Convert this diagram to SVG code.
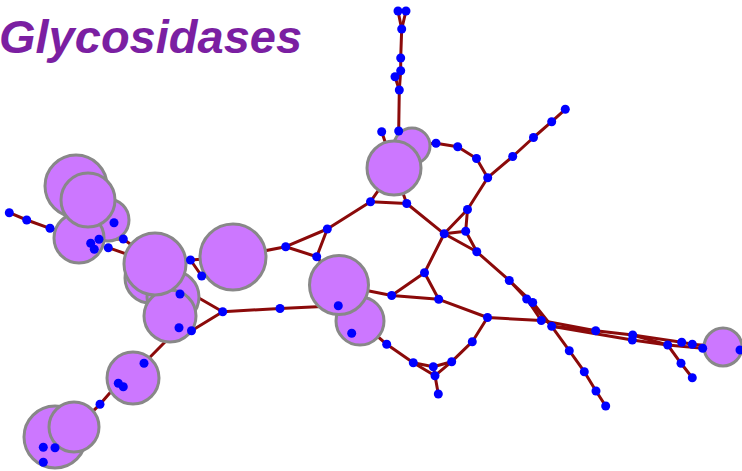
<svg xmlns="http://www.w3.org/2000/svg" width="742" height="471" viewBox="0 0 742 471">
<style>
.t{font-family:"Liberation Sans",Arial,sans-serif;font-weight:bold;font-style:italic;font-size:47px;fill:#7B1FA2}
.e line{stroke:#8B0A0A;stroke-width:3;stroke-linecap:round}
.c{fill:#CC77FF;stroke:#888888;stroke-width:3}
.d{fill:#0000FF}
</style>
<rect width="742" height="471" fill="#FFFFFF"/>
<text class="t" x="-1" y="53">Glycosidases</text>
<g id="connectors" class="e">
<line x1="398" y1="11" x2="401.7" y2="29"/>
<line x1="406" y1="11" x2="401.7" y2="29"/>
<line x1="401.7" y1="29" x2="400.7" y2="58"/>
<line x1="400.7" y1="58" x2="400.7" y2="70.7"/>
<line x1="400.7" y1="70.7" x2="395" y2="76.7"/>
<line x1="395" y1="76.7" x2="399.3" y2="90"/>
<line x1="400.7" y1="70.7" x2="399.3" y2="90"/>
<line x1="399.3" y1="90" x2="398.7" y2="131"/>
<line x1="398.7" y1="131" x2="410" y2="145"/>
<line x1="381.7" y1="131.7" x2="394" y2="168"/>
<line x1="412" y1="145" x2="436" y2="143.3"/>
<line x1="436" y1="143.3" x2="457.7" y2="146.7"/>
<line x1="457.7" y1="146.7" x2="476.5" y2="158.5"/>
<line x1="476.5" y1="158.5" x2="487.7" y2="177.7"/>
<line x1="487.7" y1="177.7" x2="512.7" y2="156.5"/>
<line x1="512.7" y1="156.5" x2="533.5" y2="137.5"/>
<line x1="533.5" y1="137.5" x2="551.7" y2="121.7"/>
<line x1="551.7" y1="121.7" x2="565.3" y2="109.3"/>
<line x1="487.7" y1="177.7" x2="467.5" y2="209.5"/>
<line x1="467.5" y1="209.5" x2="444.2" y2="233.8"/>
<line x1="467.5" y1="209.5" x2="465.7" y2="231.2"/>
<line x1="465.7" y1="231.2" x2="444.2" y2="233.8"/>
<line x1="444.2" y1="233.8" x2="476.8" y2="251.8"/>
<line x1="465.7" y1="231.2" x2="476.8" y2="251.8"/>
<line x1="394" y1="168" x2="370.5" y2="201.7"/>
<line x1="394" y1="168" x2="406.7" y2="203.5"/>
<line x1="370.5" y1="201.7" x2="406.7" y2="203.5"/>
<line x1="406.7" y1="203.5" x2="444.2" y2="233.8"/>
<line x1="370.5" y1="201.7" x2="327.3" y2="229"/>
<line x1="327.3" y1="229" x2="285.7" y2="246.7"/>
<line x1="327.3" y1="229" x2="316.7" y2="256.7"/>
<line x1="285.7" y1="246.7" x2="316.7" y2="256.7"/>
<line x1="316.7" y1="256.7" x2="339" y2="285"/>
<line x1="233" y1="257" x2="285.7" y2="246.7"/>
<line x1="476.8" y1="251.8" x2="509.3" y2="280.5"/>
<line x1="509.3" y1="280.5" x2="526.7" y2="299"/>
<line x1="509.3" y1="280.5" x2="532.7" y2="302.5"/>
<line x1="526.7" y1="299" x2="541.3" y2="320.5"/>
<line x1="532.7" y1="302.5" x2="551.7" y2="326.3"/>
<line x1="526.7" y1="299" x2="551.7" y2="326.3"/>
<line x1="444.2" y1="233.8" x2="424.5" y2="272.7"/>
<line x1="424.5" y1="272.7" x2="391.7" y2="295.5"/>
<line x1="424.5" y1="272.7" x2="438.7" y2="299.3"/>
<line x1="391.7" y1="295.5" x2="438.7" y2="299.3"/>
<line x1="391.7" y1="295.5" x2="339" y2="285"/>
<line x1="438.7" y1="299.3" x2="487.5" y2="317.5"/>
<line x1="487.5" y1="317.5" x2="541.3" y2="320.5"/>
<line x1="541.3" y1="320.5" x2="595.7" y2="330.7"/>
<line x1="551.7" y1="326.3" x2="595.7" y2="330.7"/>
<line x1="595.7" y1="330.7" x2="632.7" y2="335"/>
<line x1="632.7" y1="335" x2="667.7" y2="345"/>
<line x1="551.7" y1="326.3" x2="632.3" y2="340"/>
<line x1="632.3" y1="340" x2="667.7" y2="345"/>
<line x1="632.7" y1="335" x2="681.7" y2="342.3"/>
<line x1="681.7" y1="342.3" x2="692.3" y2="344.3"/>
<line x1="692.3" y1="344.3" x2="723" y2="347"/>
<line x1="667.7" y1="345" x2="702.7" y2="348.3"/>
<line x1="702.7" y1="348.3" x2="740" y2="350"/>
<line x1="667.7" y1="345" x2="681" y2="363.3"/>
<line x1="681" y1="363.3" x2="692.3" y2="377.7"/>
<line x1="551.7" y1="326.3" x2="569.3" y2="350.7"/>
<line x1="569.3" y1="350.7" x2="584.3" y2="371.7"/>
<line x1="584.3" y1="371.7" x2="596" y2="391"/>
<line x1="596" y1="391" x2="605.7" y2="406"/>
<line x1="487.5" y1="317.5" x2="472.3" y2="341.7"/>
<line x1="472.3" y1="341.7" x2="451.7" y2="361.7"/>
<line x1="451.7" y1="361.7" x2="435" y2="375.7"/>
<line x1="451.7" y1="361.7" x2="433.3" y2="366.7"/>
<line x1="360" y1="321" x2="386.7" y2="344.3"/>
<line x1="386.7" y1="344.3" x2="413.3" y2="362.7"/>
<line x1="413.3" y1="362.7" x2="433.3" y2="366.7"/>
<line x1="413.3" y1="362.7" x2="435" y2="375.7"/>
<line x1="433.3" y1="366.7" x2="435" y2="375.7"/>
<line x1="435" y1="375.7" x2="438.3" y2="394"/>
<line x1="338.3" y1="305.7" x2="280" y2="308.5"/>
<line x1="280" y1="308.5" x2="222.7" y2="311.7"/>
<line x1="222.7" y1="311.7" x2="185" y2="290"/>
<line x1="222.7" y1="311.7" x2="191.5" y2="330.7"/>
<line x1="190.5" y1="260" x2="233" y2="257"/>
<line x1="190.5" y1="260" x2="201.7" y2="276"/>
<line x1="201.7" y1="276" x2="233" y2="257"/>
<line x1="9.3" y1="212.7" x2="26.7" y2="220"/>
<line x1="26.7" y1="220" x2="50" y2="228.3"/>
<line x1="50" y1="228.3" x2="90.7" y2="243.3"/>
<line x1="99" y1="239.3" x2="123.3" y2="239"/>
<line x1="123.3" y1="239" x2="155" y2="262"/>
<line x1="108.3" y1="247.7" x2="155" y2="264"/>
<line x1="179" y1="327.7" x2="144" y2="363.3"/>
<line x1="118.3" y1="383.3" x2="100" y2="404.3"/>
<line x1="100" y1="404.3" x2="55" y2="447.7"/>
</g>
<g id="n-top1"><circle class="c" cx="412" cy="146" r="18"/></g>
<g id="n-top2"><circle class="c" cx="394" cy="168" r="27"/></g>
<g id="n-a"><circle class="c" cx="76" cy="186" r="31"/></g>
<g id="n-c"><circle class="c" cx="108" cy="220" r="21"/></g>
<g id="n-d"><circle class="c" cx="79" cy="238" r="25"/></g>
<g id="n-b"><circle class="c" cx="88" cy="200" r="27"/></g>
<g id="n-g"><circle class="c" cx="150" cy="278" r="25"/></g>
<g id="n-h"><circle class="c" cx="173" cy="297" r="26"/></g>
<g id="n-i"><circle class="c" cx="170" cy="316" r="26"/></g>
<g id="n-e"><circle class="c" cx="155" cy="264" r="31"/></g>
<g id="n-f"><circle class="c" cx="233" cy="257" r="33"/></g>
<g id="n-m2"><circle class="c" cx="360" cy="321" r="24"/></g>
<g id="n-m1"><circle class="c" cx="339" cy="285" r="29.5"/></g>
<g id="n-j"><circle class="c" cx="133" cy="378" r="26"/></g>
<g id="n-k"><circle class="c" cx="55" cy="437" r="31"/></g>
<g id="n-l"><circle class="c" cx="74" cy="427" r="25"/></g>
<g id="n-r"><circle class="c" cx="723" cy="347" r="19"/></g>
<g id="dots" class="d">
<circle cx="398" cy="11" r="4.5"/><circle cx="406" cy="11" r="4.5"/><circle cx="401.7" cy="29" r="4.5"/>
<circle cx="400.7" cy="58" r="4.5"/><circle cx="400.7" cy="70.7" r="4.5"/><circle cx="395" cy="76.7" r="4.5"/>
<circle cx="399.3" cy="90" r="4.5"/><circle cx="398.7" cy="131" r="4.5"/><circle cx="381.7" cy="131.7" r="4.5"/>
<circle cx="436" cy="143.3" r="4.5"/><circle cx="457.7" cy="146.7" r="4.5"/><circle cx="476.5" cy="158.5" r="4.5"/>
<circle cx="487.7" cy="177.7" r="4.5"/><circle cx="512.7" cy="156.5" r="4.5"/><circle cx="533.5" cy="137.5" r="4.5"/>
<circle cx="551.7" cy="121.7" r="4.5"/><circle cx="565.3" cy="109.3" r="4.5"/>
<circle cx="370.5" cy="201.7" r="4.5"/><circle cx="406.7" cy="203.5" r="4.5"/><circle cx="467.5" cy="209.5" r="4.5"/>
<circle cx="465.7" cy="231.2" r="4.5"/><circle cx="444.2" cy="233.8" r="4.5"/><circle cx="476.8" cy="251.8" r="4.5"/>
<circle cx="509.3" cy="280.5" r="4.5"/><circle cx="526.7" cy="299" r="4.5"/><circle cx="532.7" cy="302.5" r="4.5"/>
<circle cx="541.3" cy="320.5" r="4.5"/><circle cx="551.7" cy="326.3" r="4.5"/>
<circle cx="424.5" cy="272.7" r="4.5"/><circle cx="391.7" cy="295.5" r="4.5"/><circle cx="438.7" cy="299.3" r="4.5"/>
<circle cx="487.5" cy="317.5" r="4.5"/><circle cx="472.3" cy="341.7" r="4.5"/><circle cx="451.7" cy="361.7" r="4.5"/>
<circle cx="433.3" cy="366.7" r="4.5"/><circle cx="435" cy="375.7" r="4.5"/><circle cx="438.3" cy="394" r="4.5"/>
<circle cx="413.3" cy="362.7" r="4.5"/><circle cx="386.7" cy="344.3" r="4.5"/>
<circle cx="595.7" cy="330.7" r="4.5"/><circle cx="632.7" cy="335" r="4.5"/><circle cx="632.3" cy="340" r="4.5"/>
<circle cx="667.7" cy="345" r="4.5"/><circle cx="681.7" cy="342.3" r="4.5"/><circle cx="692.3" cy="344.3" r="4.5"/>
<circle cx="702.7" cy="348.3" r="4.5"/><circle cx="740" cy="350" r="4.5"/><circle cx="681" cy="363.3" r="4.5"/>
<circle cx="692.3" cy="377.7" r="4.5"/><circle cx="569.3" cy="350.7" r="4.5"/><circle cx="584.3" cy="371.7" r="4.5"/>
<circle cx="596" cy="391" r="4.5"/><circle cx="605.7" cy="406" r="4.5"/>
<circle cx="285.7" cy="246.7" r="4.5"/><circle cx="327.3" cy="229" r="4.5"/><circle cx="316.7" cy="256.7" r="4.5"/>
<circle cx="338.3" cy="305.7" r="4.5"/><circle cx="351.7" cy="333.3" r="4.5"/><circle cx="280" cy="308.5" r="4.5"/>
<circle cx="190.5" cy="260" r="4.5"/><circle cx="201.7" cy="276" r="4.5"/><circle cx="222.7" cy="311.7" r="4.5"/>
<circle cx="180" cy="294" r="4.5"/><circle cx="179" cy="327.7" r="4.5"/><circle cx="191.5" cy="330.7" r="4.5"/>
<circle cx="9.3" cy="212.7" r="4.5"/><circle cx="26.7" cy="220" r="4.5"/><circle cx="50" cy="228.3" r="4.5"/>
<circle cx="90.7" cy="243.3" r="4.5"/><circle cx="99" cy="239.3" r="4.5"/><circle cx="94.3" cy="249.3" r="4.5"/>
<circle cx="108.3" cy="247.7" r="4.5"/><circle cx="123.3" cy="239" r="4.5"/><circle cx="114" cy="222.7" r="4.5"/>
<circle cx="144" cy="363.3" r="4.5"/><circle cx="118.3" cy="383.3" r="4.5"/><circle cx="123.3" cy="386.7" r="4.5"/>
<circle cx="100" cy="404.3" r="4.5"/><circle cx="43.3" cy="447.3" r="4.5"/><circle cx="55" cy="447.7" r="4.5"/>
<circle cx="43.3" cy="462.3" r="4.5"/>
</g>
</svg>
